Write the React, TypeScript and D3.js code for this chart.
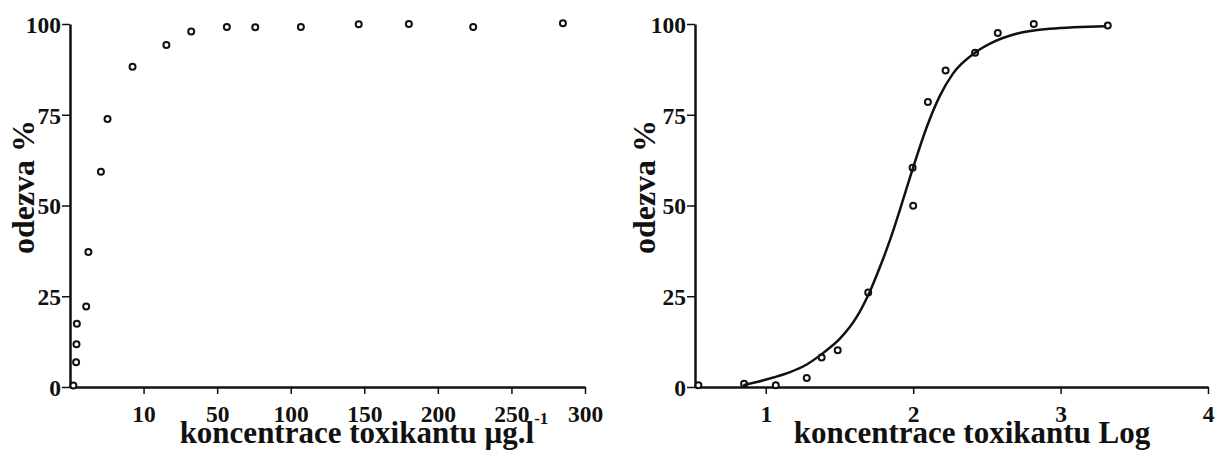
import { useEffect, useRef } from 'react';
import * as d3 from 'd3';

// left panel: raw concentration (µg/l) vs response %
const leftConc = [0.46, 0.83, 0.88, 0.93, 2.2, 2.5, 4.2, 5.1, 8.5, 22.4, 35.9, 56.6, 75.9, 106.9, 146.2, 180.3, 224, 285];
const leftResp = [0.4, 6.8, 11.8, 17.4, 22.2, 37.2, 59.3, 73.8, 88.2, 94.2, 97.9, 99.2, 99.1, 99.2, 99.9, 100, 99.2, 100.2];
const leftTicks = [10, 50, 100, 150, 200, 250, 300];

// right panel: log concentration vs response %
const rightLog = [0.543, 0.853, 1.068, 1.278, 1.379, 1.488, 1.695, 1.996, 2.0, 2.1, 2.22, 2.42, 2.574, 2.818, 3.32];
const rightResp = [0.5, 0.9, 0.5, 2.5, 8.1, 10.1, 26.0, 60.4, 49.9, 78.5, 87.2, 92.1, 97.5, 100, 99.6];
const rightTicks = [1, 2, 3, 4];

// fitted curve
const fitLog = [0.848, 1.051, 1.165, 1.278, 1.39, 1.503, 1.617, 1.707, 1.774, 1.82, 1.864, 1.91, 2.0, 2.091, 2.181, 2.271, 2.42, 2.542, 2.7, 2.926, 3.31];
const fitResp = [0.5, 2.6, 4.1, 6.2, 9.4, 13.3, 19.3, 26.4, 33, 37.9, 43, 48.8, 60.5, 71.5, 80.2, 86.4, 92.1, 95, 97.3, 98.7, 99.4];

const yTicks = [0, 25, 50, 75, 100];

const FONT = "'Liberation Serif', 'Times New Roman', serif";

export default function App() {
  const svgRef = useRef<SVGSVGElement>(null);

  useEffect(() => {
    if (!svgRef.current) return;
    const svg = d3.select(svgRef.current);
    svg.selectAll("*").remove();

    const top = 24, bottom = 387;
    const y = d3.scaleLinear().domain([0, 100]).range([bottom, top]);

    // left x: segmented axis, equal spacing between the labelled ticks
    const lx0 = 70, lx1 = 585;
    const segDomain = [0, ...leftTicks];
    const step = (lx1 - lx0) / (segDomain.length - 1);
    const xLeft = d3.scaleLinear().domain(segDomain).range(segDomain.map((_, i) => lx0 + i * step));

    const xRight = d3.scaleLinear().domain([0.52, 4]).range([695, 1208]);

    const styleAxis = (g: d3.Selection<SVGGElement, unknown, null, undefined>) => {
      g.attr("font-family", FONT).attr("font-size", 23.5).attr("font-weight", "bold");
      g.select(".domain").attr("stroke", "#111").attr("stroke-width", 2.5);
      g.selectAll(".tick line").attr("stroke", "#111").attr("stroke-width", 1.5);
      g.selectAll(".tick text").attr("fill", "#111");
    };

    const panel = (
      x: d3.ScaleLinear<number, number>,
      ticks: number[],
      xs: number[],
      ys: number[],
      xTitle: string,
      titleCx: number,
      yTitleX: number,
      sup: boolean,
    ) => {
      const left = x(x.domain()[0]);

      svg.append("g")
        .attr("transform", `translate(0,${bottom})`)
        .call(d3.axisBottom(x).tickValues(ticks).tickSize(7).tickSizeOuter(0).tickPadding(11).tickFormat(d3.format("d")))
        .call(styleAxis);

      svg.append("g")
        .attr("transform", `translate(${left},0)`)
        .call(d3.axisLeft(y).tickValues(yTicks).tickSize(8).tickSizeOuter(0).tickPadding(1))
        .call(styleAxis)
        .selectAll(".tick text").attr("dy", "0.36em");

      svg.append("g")
        .selectAll("circle")
        .data(xs.map((v, i) => [v, ys[i]]))
        .enter().append("circle")
        .attr("cx", d => x(d[0]))
        .attr("cy", d => y(d[1]))
        .attr("r", 3)
        .attr("fill", "white")
        .attr("stroke", "#111")
        .attr("stroke-width", 2);

      const t = svg.append("text")
        .attr("x", titleCx)
        .attr("y", 443)
        .attr("text-anchor", "middle")
        .attr("font-family", FONT)
        .attr("font-weight", "bold")
        .attr("font-size", 31)
        .attr("fill", "#111")
        .text(xTitle);
      if (sup) {
        t.append("tspan").attr("font-size", 17).attr("dy", -19).text("-1");
      }

      svg.append("text")
        .attr("transform", `translate(${yTitleX},187) rotate(-90)`)
        .attr("text-anchor", "middle")
        .attr("font-family", FONT)
        .attr("font-weight", "bold")
        .attr("font-size", 32)
        .attr("fill", "#111")
        .text("odezva %");
    };

    panel(xLeft, leftTicks, leftConc, leftResp, "koncentrace toxikantu µg.l", 364, 34, true);
    panel(xRight, rightTicks, rightLog, rightResp, "koncentrace toxikantu Log", 972, 655, false);

    // fitted sigmoid on the right panel
    const line = d3.line<number>()
      .x((_, i) => xRight(fitLog[i]))
      .y(d => y(d))
      .curve(d3.curveMonotoneX);

    svg.append("path")
      .datum(fitResp)
      .attr("fill", "none")
      .attr("stroke", "#111")
      .attr("stroke-width", 2.5)
      .attr("d", line);
  }, []);

  return (
    <svg
      ref={svgRef}
      width={1216}
      height={454}
      style={{ position: 'absolute', left: 0, top: 0, background: 'white' }}
    />
  );
}
